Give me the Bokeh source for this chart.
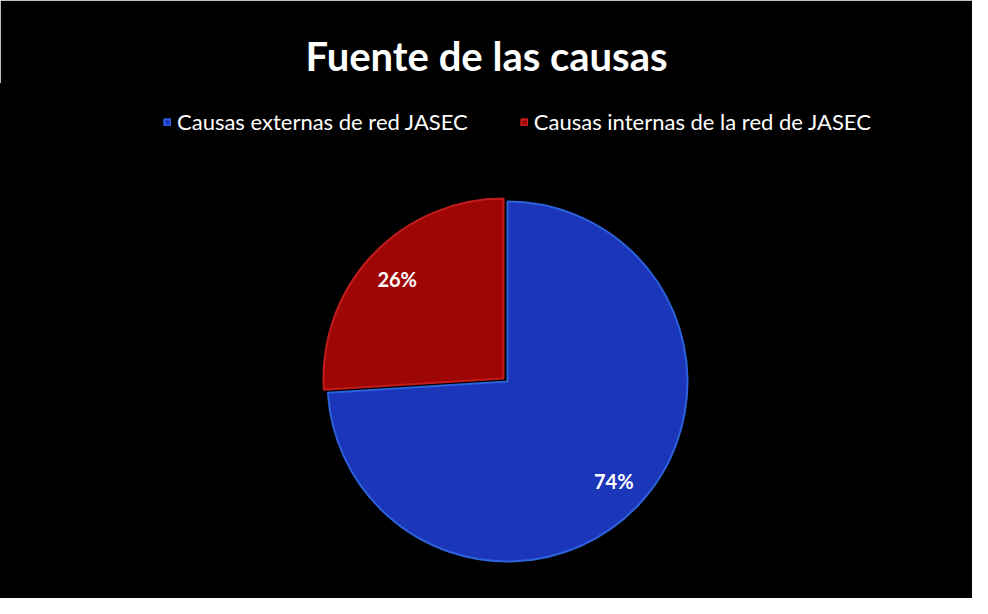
from bokeh.plotting import figure
from bokeh.models import Range1d, Legend, LegendItem, ColumnDataSource
from bokeh.core.properties import value
from bokeh.embed import file_html
from bokeh.resources import INLINE
import math

# ---- data ----
categories = ["Causas externas de red JASEC", "Causas internas de la red de JASEC"]
shares = [74, 26]
pct_labels = ["74%", "26%"]
title_text = "Fuente de las causas"

# ---- styles ----
fill_colors = ["#1b36b8", "#9e0606"]
rim_colors = ["#2c62dc", "#c41c1c"]

W = 972
FRAME_H = 514

p = figure(frame_width=W, frame_height=FRAME_H, x_range=Range1d(0, W), y_range=Range1d(0, FRAME_H),
           output_backend="svg", toolbar_location=None,
           x_axis_type=None, y_axis_type=None,
           min_border_left=0, min_border_right=0, min_border_bottom=0, min_border_top=84,
           title=title_text)
p.grid.visible = False
p.background_fill_color = "black"
p.border_fill_color = "black"
p.outline_line_color = "black"
p.outline_line_width = 3
p.title.text_color = "white"
p.title.text_font = "Lato"
p.title.text_font_size = "40px"
p.title.text_font_style = "bold"
p.title.align = "center"

# pie geometry (in frame pixel units, from frame bottom-left)
cx, cy, R = 507, 217, 180
total = sum(shares)
red_span = shares[1] / total * 2 * math.pi
start_red = math.pi / 2
end_red = start_red + red_span
starts = [end_red, start_red]
ends = [start_red + 2 * math.pi, end_red]
offsets = [(0, 0), (-4, 3)]   # slight explode of the red slice
xs = [cx + o[0] for o in offsets]
ys = [cy + o[1] for o in offsets]

src = ColumnDataSource(dict(x=xs, y=ys, start=starts, end=ends,
                            fill=fill_colors, rim=rim_colors, cat=categories))
renderer = p.wedge(x="x", y="y", radius=R, start_angle="start", end_angle="end",
                   fill_color="fill", line_color="rim", line_width=2, source=src)

# percentage labels
mids = [(s + e) / 2 for s, e in zip(starts, ends)]
lx = [x + 0.81 * R * math.cos(m) for x, m in zip(xs, mids)]
ly = [y + 0.81 * R * math.sin(m) for y, m in zip(ys, mids)]
p.text(x=lx, y=ly, text=pct_labels, text_color="white", text_font_size="20px",
       text_font=value("Lato"), text_font_style="bold", text_align="center", text_baseline="middle")

legend = Legend(items=[LegendItem(label=categories[i], renderers=[renderer], index=i) for i in range(2)],
                orientation="horizontal", location=(163, 463),
                glyph_width=8, glyph_height=8, label_standoff=6, spacing=52,
                padding=0, margin=0, background_fill_alpha=0, border_line_alpha=0,
                label_text_color="white", label_text_font="Lato", label_text_font_size="22px")
p.add_layout(legend, "center")

open("out.html", "w").write(file_html(p, INLINE))
